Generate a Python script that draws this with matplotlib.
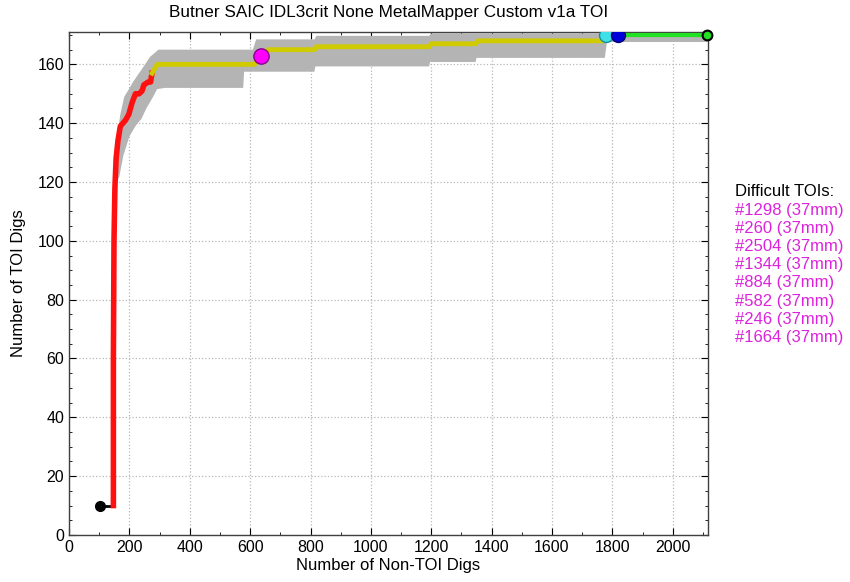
import matplotlib
matplotlib.use("Agg")
import matplotlib.pyplot as plt
from matplotlib.ticker import MultipleLocator

plt.rcParams['font.family'] = ['Liberation Sans', 'DejaVu Sans']

# ---- data ----
start_x = [103, 147]
start_y = [10, 10]

red_x = [147, 147, 149, 152, 156, 162, 170, 187, 198, 209, 220, 232, 242, 248, 262, 270, 275]
red_y = [10, 60, 100, 118, 128, 134, 139, 141, 143, 147, 150, 150, 151, 153, 154, 154, 157]

yellow_x = [275, 292, 614, 628, 637, 650, 660, 813, 820, 1193, 1200, 1347, 1355, 1770, 1780]
yellow_y = [157, 160, 160, 162, 163, 163, 165, 165, 166, 166, 167, 167, 168, 168, 170]

green_x = [1820, 2113]
green_y = [170, 170]

band_hi_x = [150, 157, 163, 170, 183, 198, 212, 232, 252, 268, 285, 296, 609, 620, 813, 820, 1193, 1200, 2113]
band_hi_y = [124, 131, 138, 143, 149, 151.5, 154, 157, 160, 162.5, 164, 165, 165, 168.5, 168.5, 169.7, 169.7, 170.5, 170.5]
band_lo_x = [165, 180, 200, 220, 240, 256, 276, 292, 318, 577, 580, 813, 816, 1193, 1196, 1347, 1350, 1775, 1782, 2113]
band_lo_y = [121, 129, 135.5, 139, 141.5, 145, 148.5, 151.6, 152, 152, 157.5, 157.5, 159.3, 159.3, 160.8, 160.8, 162.2, 162.2, 167.6, 167.6]

magenta_pt = (637, 163)
cyan_pt = (1780, 170)
blue_pt = (1820, 170)
end_pt = (2113, 170)

difficult_title = "Difficult TOIs:"
difficult_tois = ["#1298 (37mm)", "#260 (37mm)", "#2504 (37mm)", "#1344 (37mm)",
                  "#884 (37mm)", "#582 (37mm)", "#246 (37mm)", "#1664 (37mm)"]

title = "Butner SAIC IDL3crit None MetalMapper Custom v1a TOI"
xlabel = "Number of Non-TOI Digs"
ylabel = "Number of TOI Digs"

# ---- figure ----
fig = plt.figure(figsize=(8.5, 5.82), dpi=100)
ax = fig.add_axes([0.0812, 0.0808, 0.7518, 0.8642])

# confidence band polygon
poly_x = band_hi_x + band_lo_x[::-1]
poly_y = band_hi_y + band_lo_y[::-1]
ax.fill(poly_x, poly_y, color='#b4b4b4', lw=0, zorder=2)

ax.plot(start_x, start_y, color='black', lw=2, zorder=3)
ax.plot(red_x, red_y, color='#ff1010', lw=4, zorder=4)
ax.plot(yellow_x, yellow_y, color='#d0ca00', lw=3.5, zorder=4)
ax.plot(green_x, green_y, color='#22e022', lw=3, zorder=4)

ax.plot([start_x[0]], [start_y[0]], 'o', color='black', ms=7, zorder=6)
ax.plot([magenta_pt[0]], [magenta_pt[1]], 'o', mfc='#ff00ff', mec='#880088', ms=11, zorder=6)
ax.plot([cyan_pt[0]], [cyan_pt[1]], 'o', mfc='#40e0e8', mec='#1090a0', ms=10, zorder=6)
ax.plot([blue_pt[0]], [blue_pt[1]], 'o', mfc='#0000d8', mec='#000070', ms=10, zorder=7)
ax.plot([end_pt[0]], [end_pt[1]], 'o', mfc='#22e022', mec='black', mew=1.5, ms=7, zorder=7, clip_on=False)

ax.set_xlim(0, 2117)
ax.set_ylim(0, 171)
ax.xaxis.set_major_locator(MultipleLocator(200))
ax.xaxis.set_minor_locator(MultipleLocator(100))
ax.yaxis.set_major_locator(MultipleLocator(20))
ax.yaxis.set_minor_locator(MultipleLocator(5))
ax.tick_params(which='both', direction='in', top=True, right=True, labelsize=11.5)
ax.tick_params(which='major', length=5)
ax.tick_params(which='minor', length=2.5)
ax.grid(True, which='major', linestyle=':', color='#b8b8b8', lw=0.9)
for s in ax.spines.values():
    s.set_color('#404040')
    s.set_linewidth(1.0)

ax.set_title(title, fontsize=12.3, pad=11)
ax.set_xlabel(xlabel, fontsize=12, labelpad=2)
ax.set_ylabel(ylabel, fontsize=12, labelpad=8)

fig.text(0.865, 1 - 192 / 582, difficult_title, fontsize=12, color='black', va='center', ha='left')
for i, t in enumerate(difficult_tois):
    fig.text(0.865, 1 - (210 + 18.2 * i) / 582, t, fontsize=12, color='#dd22dd', va='center', ha='left')

fig.savefig('out.png', dpi=100)
